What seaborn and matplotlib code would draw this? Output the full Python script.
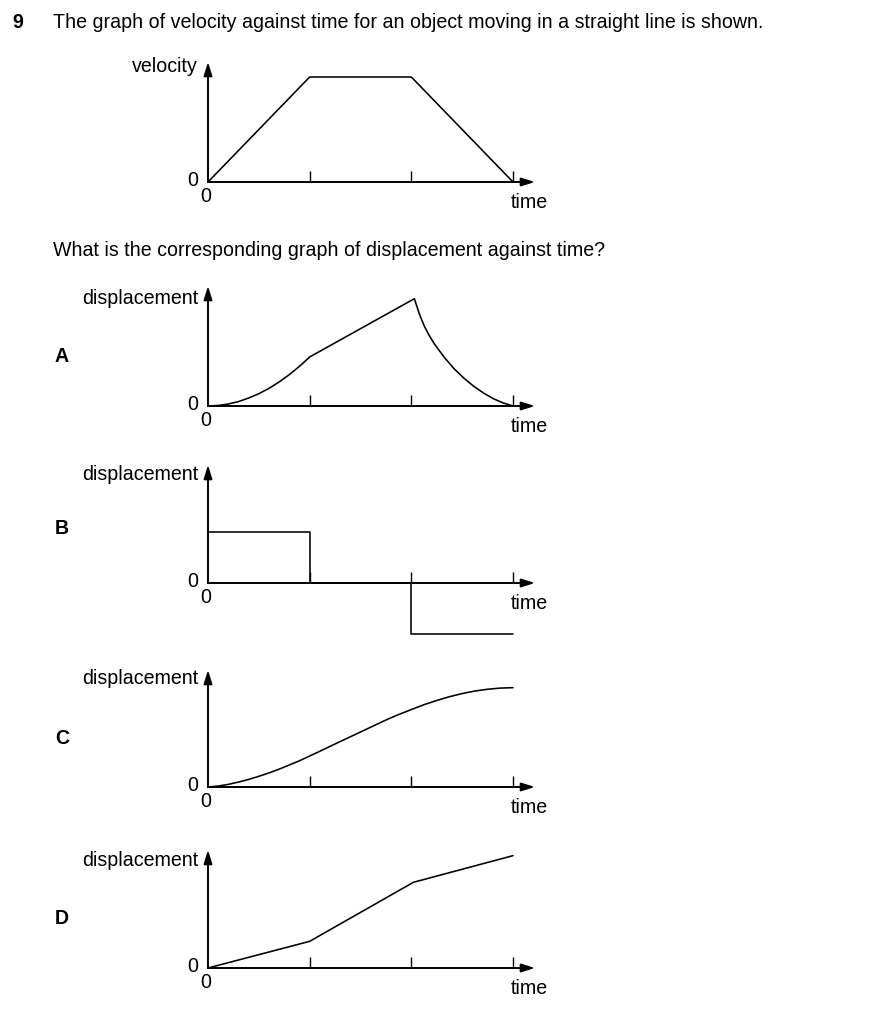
import numpy as np
import pandas as pd
import seaborn as sns
import matplotlib.pyplot as plt

sns.set_style('white')
plt.rcParams['font.family'] = ['Liberation Sans', 'DejaVu Sans']
plt.rcParams['text.color'] = 'black'

# data, time in tick units, heights in units of the velocity plateau
vel_t = [0, 1, 2, 3]
vel_v = [0, 1, 1, 0]

a_t = [0, 0.1, 0.2, 0.3, 0.4, 0.5, 0.6, 0.7, 0.8, 0.9, 1.0,
       2.03, 2.079, 2.127, 2.176, 2.224, 2.321, 2.418, 2.515, 2.612, 2.709, 2.806, 2.903, 3.0]
a_s = [0, 0.005, 0.019, 0.042, 0.076, 0.117, 0.168, 0.229, 0.299, 0.378, 0.467,
       1.022, 0.876, 0.762, 0.671, 0.595, 0.467, 0.357, 0.267, 0.189, 0.124, 0.070, 0.029, 0]

b_t = [0, 1, 1, 2, 2, 3]
b_s = [0.483, 0.483, 0, 0, -0.486, -0.486]

c_t = [0, 0.1, 0.2, 0.3, 0.4, 0.5, 0.6, 0.7, 0.8, 0.9, 1.0,
       1.125, 1.25, 1.375, 1.5, 1.625, 1.75, 1.875, 2.0,
       2.125, 2.25, 2.375, 2.5, 2.625, 2.75, 2.875, 3.0]
c_s = [0, 0.009, 0.025, 0.047, 0.072, 0.102, 0.134, 0.170, 0.210, 0.250, 0.295,
       0.352, 0.41, 0.467, 0.524, 0.581, 0.638, 0.69, 0.738,
       0.784, 0.824, 0.86, 0.89, 0.914, 0.931, 0.942, 0.946]

d_t = [0, 1, 2.02, 3]
d_s = [0, 0.254, 0.816, 1.07]

ticks = [1, 2, 3]

W, H = 880, 1024
PX_T = 101.67   # pixels per time unit
PX_S = 105.0    # pixels per height unit
FS = 14.1
fig = plt.figure(figsize=(W / 100, H / 100), dpi=100)


def ftext(x, y, s, **kw):
    fig.text(x / W, 1 - y / H, s, color='black', **kw)


def panel(ox, oy, t, s, ylabel, label_y, ytop_px=120, xend_px=535):
    below, above = 62, 128
    right = xend_px + 8
    ax = fig.add_axes([ox / W, 1 - (oy + below) / H,
                       (right - ox) / W, (below + above) / H])
    ax.set_xlim(0, (right - ox) / PX_T)
    ax.set_ylim(-below / PX_S, above / PX_S)
    ax.patch.set_alpha(0)
    for sp in ['top', 'right']:
        ax.spines[sp].set_visible(False)
    ax.spines['left'].set_position(('data', 0))
    ax.spines['bottom'].set_position(('data', 0))
    ytop = ytop_px / PX_S
    xend = (xend_px - ox) / PX_T
    ax.spines['left'].set_bounds(0, ytop - 0.05)
    ax.spines['bottom'].set_bounds(0, xend - 0.05)
    for sp in ['left', 'bottom']:
        ax.spines[sp].set_linewidth(1.4)
        ax.spines[sp].set_color('black')
    arrow = dict(arrowstyle='-|>,head_length=0.8,head_width=0.25',
                 color='black', lw=1.4, mutation_scale=10,
                 shrinkA=0, shrinkB=0)
    ax.annotate('', xy=(0, ytop), xytext=(0, ytop - 0.1), arrowprops=arrow,
                annotation_clip=False)
    ax.annotate('', xy=(xend, 0), xytext=(xend - 0.1, 0), arrowprops=arrow,
                annotation_clip=False)
    ax.set_xticks(ticks)
    ax.set_yticks([])
    ax.tick_params(axis='x', direction='in', length=7.9, width=1.0,
                   color='black', labelbottom=False, bottom=True)
    df = pd.DataFrame({'t': t, 's': s})
    sns.lineplot(data=df, x='t', y='s', ax=ax, color='black', lw=1.15,
                 estimator=None, sort=False)
    ax.set_xlabel('')
    ax.set_ylabel('')
    ftext(ox - 10, oy - 1.5, '0', fontsize=FS, ha='right', va='center')
    ftext(ox - 2, oy + 14.5, '0', fontsize=FS, ha='center', va='center')
    ftext(511, oy + 20.5, 'time', fontsize=FS, ha='left', va='center')
    ftext(198, label_y, ylabel, fontsize=FS, ha='right', va='center')
    return ax


ftext(12, 22, '9', fontsize=FS, fontweight='bold', va='center')
ftext(53, 22, 'The graph of velocity against time for an object moving in a straight line is shown.',
      fontsize=FS, va='center')
ftext(53, 250, 'What is the corresponding graph of displacement against time?',
      fontsize=FS, va='center')

panel(208, 182, vel_t, vel_v, 'velocity', 67, ytop_px=120)
panel(208, 406, a_t, a_s, 'displacement', 298, ytop_px=120)
panel(208, 583, b_t, b_s, 'displacement', 474, ytop_px=118)
panel(208, 787, c_t, c_s, 'displacement', 679, ytop_px=117)
panel(208, 968, d_t, d_s, 'displacement', 860, ytop_px=118)

for letter, y in zip(['A', 'B', 'C', 'D'], [357, 528, 738, 918]):
    ftext(62, y, letter, fontsize=FS, fontweight='bold', ha='center', va='center')

fig.savefig('out.png', dpi=100)
